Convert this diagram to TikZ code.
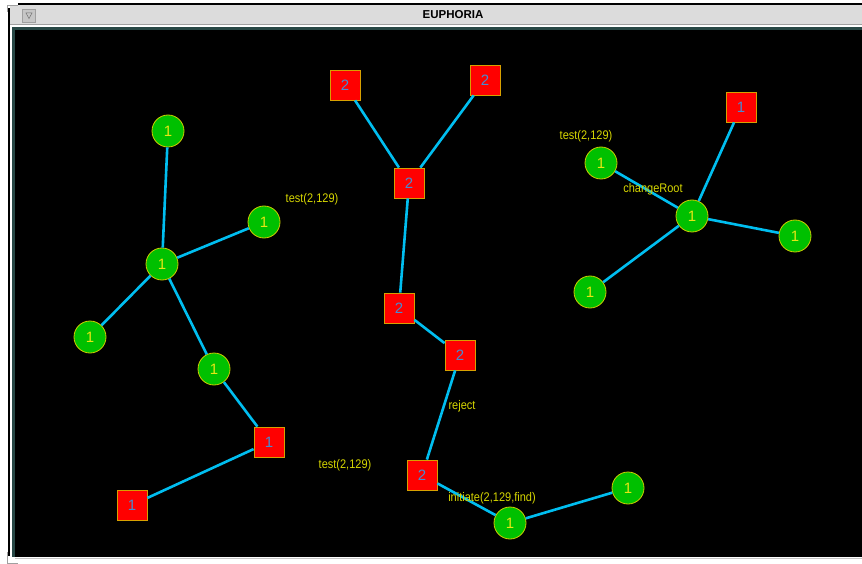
\documentclass[tikz,border=0pt]{standalone}
\usepackage{fontspec}
\setmainfont{Liberation Sans}
\usetikzlibrary{arrows.meta}
\definecolor{fraggreen}{RGB}{0,192,0}
\definecolor{fragrim}{RGB}{205,205,0}
\definecolor{corered}{RGB}{255,0,0}
\definecolor{corerim}{RGB}{215,160,0}
\definecolor{linkcyan}{RGB}{0,190,240}
\definecolor{levelblue}{RGB}{70,140,210}
\definecolor{levelyellow}{RGB}{230,230,20}
\definecolor{msgyellow}{RGB}{215,215,0}
\definecolor{bargrey}{RGB}{220,220,220}
\definecolor{edgegrey}{RGB}{160,160,160}
\definecolor{paneteal}{RGB}{40,72,70}

\begin{document}
\begin{tikzpicture}[
  x=1pt, y=-1pt,
  frag/.style={circle, draw=fragrim, fill=fraggreen, line width=0.8pt, minimum size=32pt, inner sep=0pt, text=levelyellow, font=\fontsize{15}{15}\selectfont},
  core/.style={rectangle, draw=corerim, fill=corered, line width=0.8pt, minimum size=30pt, inner sep=0pt, text=levelblue, font=\fontsize{15}{15}\selectfont},
  link/.style={linkcyan, line width=2.6pt},
  msg/.style={inner sep=0pt, xscale=0.88, text=msgyellow, font=\fontsize{12.5}{12.5}\selectfont},
]
  \useasboundingbox (0,0) rectangle (862,564);
  \fill[white] (0,0) rectangle (862,564);

  % Window frame
  \fill[black] (18,3) rectangle (862,5);
  \fill[black] (8,8) rectangle (10,556);
  \fill[bargrey] (10,5) rectangle (862,24);
  \fill[edgegrey] (10,24) rectangle (862,25.5);
  \fill[paneteal] (12,27) rectangle (862,30);
  \fill[paneteal] (12,27) rectangle (15,557);
  \fill[black] (15,30) rectangle (862,557);
  \fill[edgegrey!60] (15,557.5) rectangle (862,559);
  \draw[edgegrey, line width=1pt] (7.5,12) -- (7.5,5.5) -- (18,5.5);
  \draw[edgegrey, line width=1pt] (7.5,552) -- (7.5,563) -- (18,563);

  % Title bar
  \node[draw=edgegrey, fill=bargrey!90!black, minimum size=13pt, inner sep=0pt] (menubtn) at (29,15.5) {};
  \draw[edgegrey!70!black, line width=0.5pt] (menubtn.center) ++(-3,-2.5) -- ++(6,0) -- ++(-3,5.5) -- cycle;
  \node[font=\bfseries\fontsize{11.5}{11.5}\selectfont, inner sep=0pt] (title) at (453,15) {EUPHORIA};

  % Left fragment
  \node[frag] (a1) at (168,131) {1};
  \node[frag] (a2) at (264,222) {1};
  \node[frag] (a3) at (162,264) {1};
  \node[frag] (a4) at (90,337) {1};
  \node[frag] (a5) at (214,369) {1};
  \node[core] (a6) at (269,442) {1};
  \node[core] (a7) at (132,505) {1};
  \draw[link] (a1) -- (a3);
  \draw[link] (a2) -- (a3);
  \draw[link] (a4) -- (a3);
  \draw[link] (a3) -- (a5);
  \draw[link] (a5) -- (a6);
  \draw[link] (a6) -- (a7);

  % Middle fragment
  \node[core] (b1) at (345,85) {2};
  \node[core] (b2) at (485,80) {2};
  \node[core] (b3) at (409,183) {2};
  \node[core] (b4) at (399,308) {2};
  \node[core] (b5) at (460,355) {2};
  \node[core] (b6) at (422,475) {2};
  \node[frag] (b7) at (510,523) {1};
  \node[frag] (b8) at (628,488) {1};
  \draw[link] (b1) -- (b3);
  \draw[link] (b2) -- (b3);
  \draw[link] (b3) -- (b4);
  \draw[link] (b4) -- (b5);
  \draw[link] (b5) -- (b6);
  \draw[link] (b6) -- (b7);
  \draw[link] (b7) -- (b8);

  % Right fragment
  \node[core] (c1) at (741,107) {1};
  \node[frag] (c2) at (601,163) {1};
  \node[frag] (c3) at (692,216) {1};
  \node[frag] (c4) at (795,236) {1};
  \node[frag] (c5) at (590,292) {1};
  \draw[link] (c1) -- (c3);
  \draw[link] (c2) -- (c3);
  \draw[link] (c4) -- (c3);
  \draw[link] (c5) -- (c3);

  % Messages in transit
  \node[msg] (m1) at (312,199) {test(2,129)};
  \node[msg] (m2) at (586,136) {test(2,129)};
  \node[msg] (m3) at (653,189) {changeRoot};
  \node[msg] (m4) at (462,406) {reject};
  \node[msg] (m5) at (345,465) {test(2,129)};
  \node[msg] (m6) at (492,498) {initiate(2,129,find)};
\end{tikzpicture}
\end{document}
